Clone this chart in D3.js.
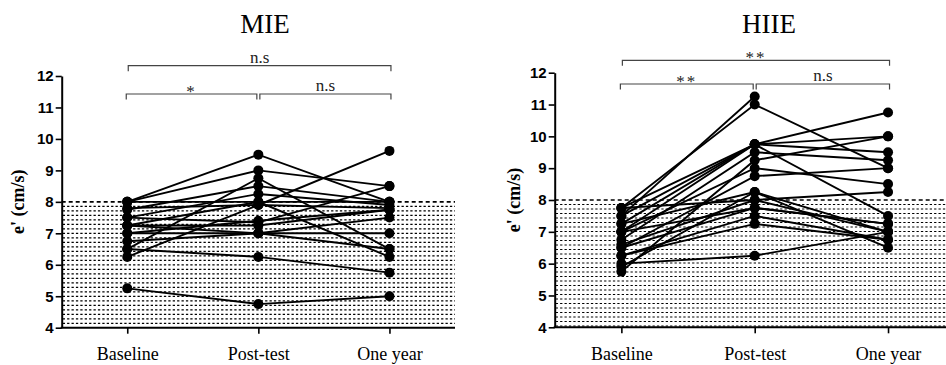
<!DOCTYPE html>
<html>
<head>
<meta charset="utf-8">
<script src="https://cdn.jsdelivr.net/npm/d3@7"></script>
<style>
  html, body { margin: 0; padding: 0; background: #fff; }
  svg { display: block; }
</style>
</head>
<body>
<svg id="chart" width="946" height="365"></svg>
<script>
// Time points on the x axis
const categories = ["Baseline", "Post-test", "One year"];
// Y-axis ticks, e' (cm/s)
const yTicks = [4, 5, 6, 7, 8, 9, 10, 11, 12];
// Upper limit of the shaded reference band
const refValue = 8;

// MIE group: one row per participant [Baseline, Post-test, One year]
const mieValues = [
  [8.0, 9.5, 8.0],
  [8.0, 9.0, 8.5],
  [6.5, 8.75, 6.5],
  [7.75, 8.5, 8.0],
  [7.5, 8.25, 7.9],
  [6.25, 7.9, 9.62],
  [7.25, 8.0, 6.25],
  [7.8, 7.9, 7.8],
  [7.5, 7.35, 8.5],
  [7.25, 7.25, 7.75],
  [7.0, 7.0, 7.5],
  [6.75, 7.0, 7.0],
  [7.25, 7.0, 6.5],
  [6.5, 6.25, 5.75],
  [5.25, 4.75, 5.0],
  [8.0, 8.0, 8.0],
  [7.0, 7.4, 7.75]
];

// HIIE group: one row per participant [Baseline, Post-test, One year]
const hiieValues = [
  [7.5, 11.25, null],
  [7.75, 11.0, 9.0],
  [7.5, 9.75, 10.75],
  [7.25, 9.75, 10.0],
  [7.0, 9.75, 9.5],
  [7.75, 9.75, 7.5],
  [6.75, 9.5, 9.25],
  [5.75, 9.25, 10.0],
  [7.0, 9.0, 8.5],
  [6.5, 8.75, 9.0],
  [7.75, 8.0, 8.25],
  [5.9, 8.25, 7.0],
  [7.25, 8.25, 6.5],
  [6.5, 7.75, 7.25],
  [6.25, 7.5, 6.75],
  [6.6, 8.0, 7.0],
  [6.25, 7.25, 6.75],
  [6.0, 6.25, 7.0],
  [7.0, 7.75, 7.25]
];

// Pairwise comparisons: [from index, to index, label, level]
const mieComparisons = [
  [0, 2, "n.s", 0],
  [0, 1, "*", 1],
  [1, 2, "n.s", 1]
];
const hiieComparisons = [
  [0, 2, "**", 0],
  [0, 1, "**", 1],
  [1, 2, "n.s", 1]
];

const svg = d3.select("#chart");
const serif = "'Liberation Serif', 'Times New Roman', serif";

function drawPanel(opts) {
  const g = svg.append("g");
  const x = d3.scalePoint().domain(categories).range([opts.x0, opts.x1]).padding(0.5);
  const y = d3.scaleLinear().domain([4, 12]).range([opts.yBottom, opts.yTop]);
  const xEnd = opts.xAxisEnd;

  // Stippled reference band (4 to 8 cm/s)
  const band = g.append("g");
  const rowGap = 4.5;
  const rows = d3.range(y(refValue) + rowGap, y(4) - 1, rowGap);
  band.selectAll("line").data(rows).join("line")
    .attr("x1", opts.x0 + 1).attr("x2", xEnd)
    .attr("y1", d => d).attr("y2", d => d)
    .attr("stroke", "#000").attr("stroke-width", 1.1)
    .attr("stroke-dasharray", "2.3,2.1");

  // Dashed reference line at 8 cm/s
  g.append("line")
    .attr("x1", opts.x0).attr("x2", xEnd)
    .attr("y1", y(refValue)).attr("y2", y(refValue))
    .attr("stroke", "#000").attr("stroke-width", 1.6)
    .attr("stroke-dasharray", "4,3");

  // Y axis
  const yAxis = g.append("g")
    .attr("transform", `translate(${opts.x0},0)`)
    .call(d3.axisLeft(y).tickValues(yTicks).tickSize(6).tickSizeOuter(0).tickPadding(2));
  yAxis.select(".domain").attr("stroke", "#000").attr("stroke-width", 2);
  yAxis.selectAll(".tick line").attr("stroke", "#000").attr("stroke-width", 1.6);
  yAxis.selectAll(".tick text")
    .attr("fill", "#000")
    .style("font-family", "Arial, 'Liberation Sans', sans-serif")
    .style("font-weight", "bold")
    .style("font-size", "15px");

  // X axis
  const xAxis = g.append("g")
    .attr("transform", `translate(0,${opts.yBottom})`)
    .call(d3.axisBottom(x).tickSize(6).tickSizeOuter(0).tickPadding(13.5));
  xAxis.select(".domain").attr("d", `M${opts.x0 - 1},0H${xEnd}`)
    .attr("stroke", "#000").attr("stroke-width", 2);
  xAxis.selectAll(".tick line").attr("stroke", "#000").attr("stroke-width", 1.6);
  xAxis.selectAll(".tick text")
    .attr("fill", "#000")
    .style("font-family", serif)
    .style("font-size", "18px");

  // Participant trajectories
  const line = d3.line()
    .defined(d => d.v != null)
    .x(d => x(d.c)).y(d => y(d.v));
  const subjects = opts.values.map(row => row.map((v, i) => ({ c: categories[i], v })));
  g.append("g").selectAll("path").data(subjects).join("path")
    .attr("d", line)
    .attr("fill", "none").attr("stroke", "#000").attr("stroke-width", 1.9);
  g.append("g").selectAll("circle")
    .data(subjects.flat().filter(d => d.v != null))
    .join("circle")
    .attr("cx", d => x(d.c)).attr("cy", d => y(d.v)).attr("r", 5)
    .attr("fill", "#000");

  // Significance brackets
  const br = g.append("g");
  opts.comparisons.forEach(([a, b, label, level]) => {
    const by = opts.bracketY[level];
    const gap = level === 1 ? 1.5 : 0;
    const xa = x(categories[a]) + (a === 1 ? gap : (level === 0 ? 1 : -1));
    const xb = x(categories[b]) + (b === 1 ? -gap : 1.5);
    br.append("path")
      .attr("d", `M${xa},${by + 5.5}V${by}H${xb}V${by + 5.5}`)
      .attr("fill", "none").attr("stroke", "#444").attr("stroke-width", 1.2);
    const isStar = label.startsWith("*");
    br.append("text")
      .attr("x", (xa + xb) / 2)
      .attr("y", isStar ? by + 2.5 : by - 3)
      .attr("text-anchor", "middle")
      .attr("fill", "#222")
      .style("font-family", serif)
      .style("font-size", "17px")
      .style("letter-spacing", isStar ? "2px" : "0px")
      .text(label);
  });

  // Panel title
  g.append("text")
    .attr("x", opts.titleX).attr("y", 33)
    .attr("text-anchor", "middle")
    .attr("fill", "#000")
    .style("font-family", serif)
    .style("font-size", "27px")
    .text(opts.title);

  // Y-axis title
  g.append("text")
    .attr("transform", `translate(${opts.yLabelX},${(opts.yTop + opts.yBottom) / 2}) rotate(-90)`)
    .attr("text-anchor", "middle")
    .attr("fill", "#000")
    .style("font-family", serif)
    .style("font-weight", "bold")
    .style("font-size", "18px")
    .text("e' (cm/s)");
}

drawPanel({
  title: "MIE", titleX: 265,
  values: mieValues, comparisons: mieComparisons,
  x0: 61.7, x1: 455, xAxisEnd: 455,
  yTop: 76, yBottom: 327.7,
  bracketY: [65.7, 94],
  yLabelX: 24
});

drawPanel({
  title: "HIIE", titleX: 769,
  values: hiieValues, comparisons: hiieComparisons,
  x0: 554.7, x1: 954.7, xAxisEnd: 946,
  yTop: 72.7, yBottom: 327.3,
  bracketY: [60.3, 84],
  yLabelX: 520
});
</script>
</body>
</html>
